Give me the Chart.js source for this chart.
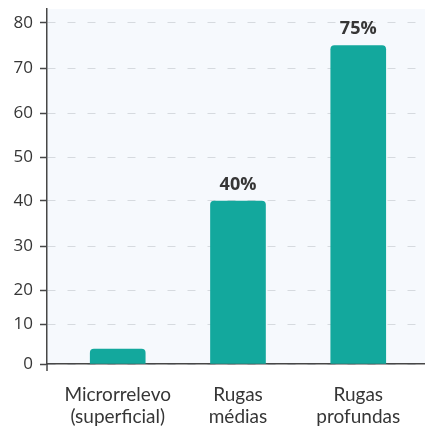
<!DOCTYPE html>
<html>
<head>
<meta charset="utf-8">
<script src="https://cdn.jsdelivr.net/npm/chart.js@4.4.0/dist/chart.umd.min.js"></script>
<style>
    html, body { margin: 0; padding: 0; background: #ffffff; }
    #wrap { width: 425px; height: 427px; }
</style>
</head>
<body>
<div id="wrap"><canvas id="wrinkleChart"></canvas></div>
<script>
// Chart data
const categories = [['Microrrelevo', '(superficial)'], ['Rugas', 'médias'], ['Rugas', 'profundas']];
const values = [3.7, 40, 75];
const barLabels = [null, '40%', '75%'];
const yTicks = [0, 10, 20, 30, 40, 50, 60, 70, 80];

// Linear scale whose tick intervals can have uneven heights (as in the reference)
class SegmentScale extends Chart.LinearScale {
    _decimalFor(value) {
        const stops = this.options.stops;
        const seg = this.options.segments;
        const total = seg.reduce((a, b) => a + b, 0);
        let acc = 0;
        for (let i = 0; i < seg.length; i++) {
            const a = stops[i], b = stops[i + 1];
            if (value <= b || i === seg.length - 1) {
                return (acc + (value - a) / (b - a) * seg[i]) / total;
            }
            acc += seg[i];
        }
        return 0;
    }
    getPixelForValue(value) {
        return this.getPixelForDecimal(this._decimalFor(value));
    }
    getValueForPixel(pixel) {
        const dec = this.getDecimalForPixel(pixel);
        const stops = this.options.stops;
        const seg = this.options.segments;
        const total = seg.reduce((a, b) => a + b, 0);
        let acc = 0;
        for (let i = 0; i < seg.length; i++) {
            const next = acc + seg[i] / total;
            if (dec <= next || i === seg.length - 1) {
                return stops[i] + (dec - acc) / (seg[i] / total) * (stops[i + 1] - stops[i]);
            }
            acc = next;
        }
        return 0;
    }
}
SegmentScale.id = 'segment';
SegmentScale.defaults = Chart.LinearScale.defaults;

// Category scale with a little extra room at both ends
class InsetCategoryScale extends Chart.CategoryScale {
    buildTicks() {
        const ticks = super.buildTicks();
        const inset = this.options.inset || [0, 0];
        this._startValue -= inset[0];
        this._valueRange += inset[0] + inset[1];
        return ticks;
    }
}
InsetCategoryScale.id = 'insetCategory';
InsetCategoryScale.defaults = Chart.CategoryScale.defaults;

Chart.register(SegmentScale, InsetCategoryScale);

const AXIS_COLOR = '#474747';
const TEXT_COLOR = '#363636';

// Plot background, axis stub and bar value labels
const decorPlugin = {
    id: 'decor',
    beforeDraw(chart) {
        const { ctx, chartArea } = chart;
        ctx.save();
        ctx.fillStyle = '#f6f9fd';
        ctx.fillRect(chartArea.left, chartArea.top, chartArea.right - chartArea.left, chartArea.bottom - chartArea.top);
        ctx.restore();
    },
    afterDraw(chart) {
        const { ctx, chartArea } = chart;
        ctx.save();
        ctx.strokeStyle = AXIS_COLOR;
        ctx.lineWidth = 1.5;
        ctx.beginPath();
        ctx.moveTo(chartArea.left, chartArea.bottom);
        ctx.lineTo(chartArea.left, chartArea.bottom + 7);
        ctx.stroke();

        const meta = chart.getDatasetMeta(0);
        ctx.fillStyle = TEXT_COLOR;
        ctx.font = 'bold 18px "Open Sans"';
        ctx.textAlign = 'center';
        ctx.textBaseline = 'alphabetic';
        meta.data.forEach((bar, i) => {
            if (!barLabels[i]) return;
            ctx.fillText(barLabels[i], bar.x, bar.y - 11.5);
        });
        ctx.restore();
    }
};

new Chart(document.getElementById('wrinkleChart'), {
    type: 'bar',
    data: {
        labels: categories,
        datasets: [{
            data: values,
            backgroundColor: '#13a89d',
            borderRadius: 4,
            barThickness: 55
        }]
    },
    options: {
        responsive: true,
        maintainAspectRatio: false,
        animation: false,
        layout: { padding: { top: 9, right: 0, bottom: 0, left: 0 } },
        plugins: {
            legend: { display: false },
            tooltip: { enabled: false },
            title: { display: false }
        },
        scales: {
            x: {
                type: 'insetCategory',
                offset: true,
                inset: [0.088, 0.055],
                grid: { display: false },
                border: { display: true, color: AXIS_COLOR, width: 1.5 },
                ticks: {
                    color: TEXT_COLOR,
                    padding: 11,
                    maxRotation: 0,
                    autoSkip: false,
                    font: { family: 'Lato', size: 19, lineHeight: 1.2 }
                },
                afterFit(scale) {
                    scale.height = 63;
                    scale.paddingLeft = 0;
                    scale.paddingRight = 0;
                }
            },
            y: {
                type: 'segment',
                min: 0,
                max: 83,
                stops: [0, 10, 20, 30, 40, 50, 60, 70, 80, 83],
                segments: [40, 34, 44, 45, 44, 44, 45, 45, 14],
                afterBuildTicks(scale) {
                    scale.ticks = yTicks.map(v => ({ value: v }));
                },
                grid: {
                    color: '#d6dadf',
                    lineWidth: 1,
                    tickColor: AXIS_COLOR,
                    tickWidth: 1.5,
                    tickLength: 7,
                    tickBorderDash: []
                },
                border: { display: true, color: AXIS_COLOR, width: 1.5, dash: [8, 12] },
                ticks: {
                    color: TEXT_COLOR,
                    padding: 7,
                    font: { family: 'Open Sans', size: 17 }
                },
                afterFit(scale) {
                    scale.width = 47;
                    scale.paddingTop = 0;
                    scale.paddingBottom = 0;
                }
            }
        }
    },
    plugins: [decorPlugin]
});
</script>
</body>
</html>
